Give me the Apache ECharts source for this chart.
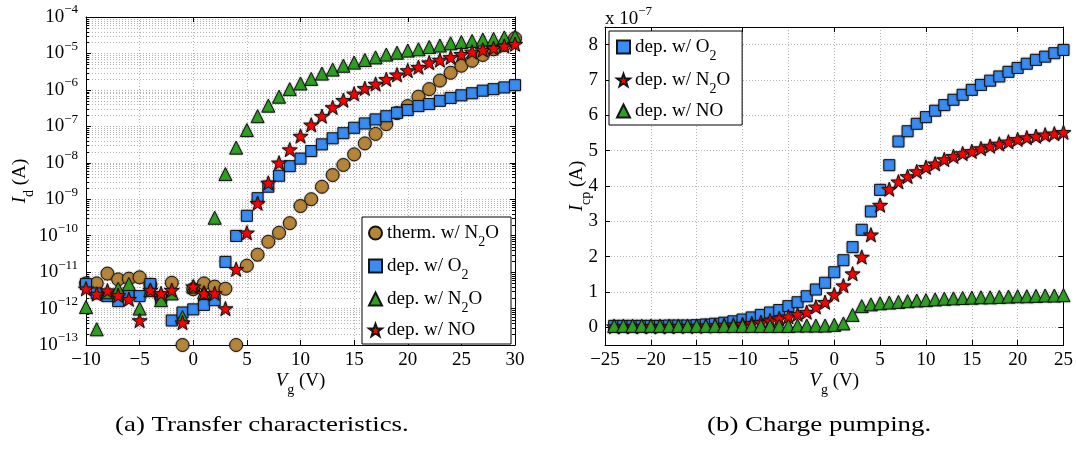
<!DOCTYPE html>
<html>
<head>
<meta charset="utf-8">
<script src="https://cdn.jsdelivr.net/npm/echarts@6/dist/echarts.min.js"></script>
<style>
  html, body { margin: 0; padding: 0; background: #fff; }
  #chart { width: 1076px; height: 450px; }
</style>
</head>
<body>
<div id="chart"></div>
<script>
// (a) Transfer characteristics: gate voltage in V, drain current in A
const vgTransfer = [-10, -9, -8, -7, -6, -5, -4, -3, -2, -1, 0, 1, 2, 3, 4, 5, 6, 7, 8, 9,
  10, 11, 12, 13, 14, 15, 16, 17, 18, 19, 20, 21, 22, 23, 24, 25, 26, 27, 28, 29, 30];

const idThermN2O = [4.9e-12, 4.9e-12, 9.1e-12, 6.3e-12, 6.6e-12, 7.2e-12, 4.5e-12, 2.0e-12, 5.1e-12, 1.0e-13,
  3.4e-12, 4.9e-12, 4.0e-12, 3.5e-12, 1.0e-13, 1.5e-11, 3.0e-11, 6.8e-11, 1.2e-10, 2.2e-10,
  6.5e-10, 1.0e-9, 2.2e-9, 4.6e-9, 8.7e-9, 1.7e-8, 3.4e-8, 6.2e-8, 1.15e-7, 2.3e-7,
  3.6e-7, 6.5e-7, 1.05e-6, 1.8e-6, 2.95e-6, 4.6e-6, 6.3e-6, 9.1e-6, 1.3e-5, 1.7e-5, 2.6e-5];

const idDepO2 = [4.7e-12, 2.6e-12, 2.2e-12, 1.6e-12, 2.6e-12, 2.2e-12, 4.7e-12, 1.8e-12, 4.7e-13, 7.8e-13,
  9.5e-13, 1.26e-12, 1.7e-12, 1.9e-11, 9.8e-11, 3.5e-10, 1.07e-9, 2.2e-9, 4.4e-9, 8.1e-9,
  1.3e-8, 2.1e-8, 3.2e-8, 4.7e-8, 6.5e-8, 9.1e-8, 1.2e-7, 1.55e-7, 1.9e-7, 2.35e-7,
  2.8e-7, 3.6e-7, 4.1e-7, 5.0e-7, 6.0e-7, 7.1e-7, 8.1e-7, 9.5e-7, 1.05e-6, 1.17e-6, 1.35e-6];

const idDepN2O = [1.1e-12, 2.7e-13, 2.8e-12, 3.5e-12, 4.7e-12, 1.0e-12, 3.2e-12, 1.7e-12, 2.6e-12, 5.8e-13,
  4.0e-12, 2.8e-12, 3.1e-10, 4.9e-9, 2.6e-8, 7.9e-8, 1.9e-7, 3.7e-7, 6.5e-7, 1.05e-6,
  1.5e-6, 2.0e-6, 2.8e-6, 3.6e-6, 4.6e-6, 5.6e-6, 6.6e-6, 7.8e-6, 9.3e-6, 1.05e-5,
  1.2e-5, 1.3e-5, 1.5e-5, 1.65e-5, 1.9e-5, 2.05e-5, 2.2e-5, 2.4e-5, 2.5e-5, 2.75e-5, 2.9e-5];

const idDepNO = [3.5e-12, 2.5e-12, 3.1e-12, 2.3e-12, 1.8e-12, 4.7e-13, 3.2e-12, 2.6e-12, 3.2e-12, 4.1e-13,
  4.0e-12, 2.6e-12, 2.6e-12, 1.0e-12, 1.2e-11, 1.2e-10, 7.8e-10, 2.8e-9, 1.0e-8, 2.3e-8,
  5.4e-8, 1.1e-7, 1.9e-7, 3.3e-7, 5.2e-7, 7.8e-7, 1.1e-6, 1.45e-6, 1.95e-6, 2.6e-6,
  3.4e-6, 4.2e-6, 5.6e-6, 6.6e-6, 7.8e-6, 9.5e-6, 1.1e-5, 1.25e-5, 1.4e-5, 1.6e-5, 1.8e-5];

// (b) Charge pumping: gate voltage in V, current in units of 1e-7 A
const vgPumping = [-24, -23, -22, -21, -20, -19, -18, -17, -16, -15, -14, -13, -12, -11, -10, -9, -8, -7, -6, -5,
  -4, -3, -2, -1, 0, 1, 2, 3, 4, 5, 6, 7, 8, 9, 10, 11, 12, 13, 14, 15,
  16, 17, 18, 19, 20, 21, 22, 23, 24, 25];

const icpDepO2 = [0.04, 0.04, 0.04, 0.04, 0.04, 0.04, 0.05, 0.05, 0.05, 0.06,
  0.08, 0.10, 0.13, 0.17, 0.22, 0.28, 0.35, 0.42, 0.49, 0.60,
  0.71, 0.88, 1.07, 1.26, 1.56, 1.90, 2.27, 2.76, 3.28, 3.89,
  4.59, 5.26, 5.55, 5.76, 5.95, 6.13, 6.29, 6.44, 6.58, 6.72,
  6.86, 6.98, 7.10, 7.23, 7.34, 7.46, 7.57, 7.66, 7.76, 7.85];

const icpDepN2O = [0.02, 0.02, 0.02, 0.02, 0.02, 0.02, 0.02, 0.03, 0.03, 0.03,
  0.04, 0.05, 0.06, 0.07, 0.09, 0.11, 0.14, 0.19, 0.25, 0.30,
  0.37, 0.43, 0.58, 0.71, 0.93, 1.18, 1.52, 1.99, 2.62, 3.46,
  3.91, 4.12, 4.27, 4.41, 4.53, 4.63, 4.75, 4.84, 4.92, 4.98,
  5.06, 5.13, 5.19, 5.25, 5.32, 5.37, 5.41, 5.45, 5.48, 5.52];

const icpDepNO = [0.04, 0.04, 0.04, 0.04, 0.04, 0.04, 0.04, 0.04, 0.04, 0.04,
  0.04, 0.04, 0.04, 0.04, 0.04, 0.04, 0.04, 0.04, 0.04, 0.04,
  0.05, 0.05, 0.05, 0.05, 0.07, 0.11, 0.35, 0.60, 0.65, 0.68,
  0.70, 0.72, 0.74, 0.76, 0.77, 0.79, 0.81, 0.82, 0.83, 0.84,
  0.85, 0.85, 0.86, 0.87, 0.88, 0.88, 0.89, 0.90, 0.90, 0.91];

// axis ranges
const transferX = [-10, 30];
const transferY = [1e-13, 1e-4];
const pumpingX = [-25, 25];
const pumpingY = [-0.5, 8.5];

// legend labels (rich text, subscripts in {s|...})
const legendLabels = {
  'a_therm_N2O': 'therm. w/ N{s|2}O',
  'a_dep_O2': 'dep. w/ O{s|2}',
  'a_dep_N2O': 'dep. w/ N{s|2}O',
  'a_dep_NO': 'dep. w/ NO',
  'b_dep_O2': 'dep. w/ O{s|2}',
  'b_dep_N2O': 'dep. w/ N{s|2}O',
  'b_dep_NO': 'dep. w/ NO'
};

const FONT = '"Liberation Serif", "Times New Roman", serif';
const C_BROWN = '#B5853A';
const C_BLUE = '#388CF2';
const C_GREEN = '#2FA024';
const C_RED = '#FF0000';
const EDGE = '#141414';
const GRID_LINE = { color: '#b4b4b4', width: 1, type: [1, 2] };
const STAR = 'path://M0,-10L2.351,-3.236L9.511,-3.09L3.804,1.236L5.878,8.09L0,4L-5.878,8.09L-3.804,1.236L-9.511,-3.09L-2.351,-3.236Z';

// minor decade positions (2..9 x 10^n) on the log axis
const minorLog = [];
for (let e = Math.round(Math.log10(transferY[0])); e < Math.round(Math.log10(transferY[1])); e++) {
  for (let k = 2; k <= 9; k++) minorLog.push(k * Math.pow(10, e));
}

function minusSign(v) {
  return v < 0 ? '\u2212' + Math.abs(v) : String(v);
}

const subRich = { fontSize: 14, fontFamily: FONT, padding: [18, 0, 0, 0], lineHeight: 14, color: '#000' };
const italicRich = { fontSize: 19, fontFamily: FONT, fontStyle: 'italic', color: '#000' };

function boxAxes(gridIndex, type, range, pos) {
  return {
    gridIndex: gridIndex, type: type, min: range[0], max: range[1], position: pos,
    axisLine: { show: true, onZero: false, lineStyle: { color: '#000', width: 1 } },
    axisTick: { show: true, inside: true, length: 5, lineStyle: { color: '#000' } },
    axisLabel: { show: false },
    splitLine: { show: false }
  };
}

const xAxisBase = {
  axisLine: { show: true, onZero: false, lineStyle: { color: '#000', width: 1 } },
  axisTick: { show: true, inside: true, length: 5, lineStyle: { color: '#000' } },
  axisLabel: { color: '#000', fontFamily: FONT, fontSize: 19, margin: 6, formatter: minusSign },
  splitLine: { show: true, lineStyle: GRID_LINE },
  nameLocation: 'middle',
  nameGap: 24,
  nameMoveOverlap: false,
  nameTextStyle: { color: '#000', fontFamily: FONT, fontSize: 19, lineHeight: 24, rich: { i: italicRich, s: subRich } }
};

function scatter(name, xi, yi, xs, ys, symbol, size, color, z) {
  return {
    type: 'scatter', name: name, xAxisIndex: xi, yAxisIndex: yi,
    data: xs.map((x, i) => [x, ys[i]]),
    symbol: symbol, symbolSize: size, symbolKeepAspect: true,
    itemStyle: {
      color: color, borderColor: EDGE, borderWidth: 1, opacity: 1,
      shadowBlur: 2, shadowColor: 'rgba(0,0,0,0.35)'
    },
    emphasis: { disabled: true }, silent: true, z: z
  };
}

const legendCommon = {
  orient: 'vertical', selectedMode: false,
  backgroundColor: '#fff', borderColor: '#000', borderWidth: 1, borderRadius: 0,
  itemWidth: 13, itemHeight: 13, itemGap: 1, itemTextGap: 6,
  formatter: n => legendLabels[n],
  textStyle: { color: '#000', fontFamily: FONT, fontSize: 19, lineHeight: 28, rich: { s: subRich } },
  z: 10
};

const option = {
  animation: false,
  backgroundColor: '#fff',
  grid: [
    { left: 86, top: 17, width: 429, height: 328, containLabel: false },
    { left: 605, top: 27, width: 461, height: 318, containLabel: false }
  ],
  xAxis: [
    Object.assign({}, xAxisBase, {
      gridIndex: 0, type: 'value', min: transferX[0], max: transferX[1], interval: 5, position: 'bottom',
      name: '{i|V}{s|g} (V)'
    }),
    boxAxes(0, 'value', transferX, 'top'),
    Object.assign({}, xAxisBase, {
      gridIndex: 1, type: 'value', min: pumpingX[0], max: pumpingX[1], interval: 5, position: 'bottom',
      name: '{i|V}{s|g} (V)'
    }),
    boxAxes(1, 'value', pumpingX, 'top')
  ],
  yAxis: [
    {
      gridIndex: 0, type: 'log', logBase: 10, min: transferY[0], max: transferY[1], position: 'left',
      axisLine: { show: true, onZero: false, lineStyle: { color: '#000', width: 1 } },
      axisTick: { show: true, inside: true, length: 5, lineStyle: { color: '#000' } },
      axisLabel: {
        color: '#000', fontFamily: FONT, fontSize: 19, margin: 8,
        formatter: v => '{b|10}{p|' + minusSign(Math.round(Math.log10(v))) + '}',
        rich: {
          b: { fontSize: 19, fontFamily: FONT, color: '#000' },
          p: { fontSize: 13, fontFamily: FONT, color: '#000', padding: [0, 0, 14, 0] }
        }
      },
      splitLine: { show: true, lineStyle: GRID_LINE },
      name: '{i|I}{s|d} (A)', nameLocation: 'middle', nameGap: 54, nameRotate: 90, nameMoveOverlap: false,
      nameTextStyle: { color: '#000', fontFamily: FONT, fontSize: 19, lineHeight: 24, rich: { i: italicRich, s: subRich } }
    },
    boxAxes(0, 'log', transferY, 'right'),
    {
      gridIndex: 1, type: 'value', min: pumpingY[0], max: pumpingY[1], splitNumber: 9, position: 'left',
      axisLine: { show: true, onZero: false, lineStyle: { color: '#000', width: 1 } },
      axisTick: { show: true, inside: true, length: 5, lineStyle: { color: '#000' } },
      axisLabel: { color: '#000', fontFamily: FONT, fontSize: 19, margin: 7, showMinLabel: false, showMaxLabel: false },
      splitLine: { show: true, lineStyle: GRID_LINE },
      name: '{i|I}{s|cp} (A)', nameLocation: 'middle', nameGap: 16, nameRotate: 90, nameMoveOverlap: false,
      nameTextStyle: { color: '#000', fontFamily: FONT, fontSize: 19, lineHeight: 24, rich: { i: italicRich, s: subRich } }
    },
    boxAxes(1, 'value', pumpingY, 'right')
  ],
  legend: [
    Object.assign({}, legendCommon, {
      left: 362, top: 217, padding: [0, 12, 0, 6],
      data: ['a_therm_N2O', 'a_dep_O2', 'a_dep_N2O', 'a_dep_NO']
    }),
    Object.assign({}, legendCommon, {
      left: 609, top: 31, padding: [0, 12, 0, 7],
      data: ['b_dep_O2', 'b_dep_N2O', 'b_dep_NO']
    })
  ],
  graphic: [
    {
      type: 'text', x: 605, y: 19, silent: true,
      style: {
        text: 'x 10{p|\u22127}', fill: '#000', fontFamily: FONT, fontSize: 19, verticalAlign: 'middle',
        rich: { p: { fontSize: 13, fontFamily: FONT, fill: '#000', padding: [0, 0, 14, 0] } }
      }
    },
    {
      type: 'text', x: 115, y: 425, scaleX: 1.28, silent: true,
      style: { text: '(a) Transfer characteristics.', fill: '#000', fontFamily: FONT, fontSize: 21, verticalAlign: 'middle' }
    },
    {
      type: 'text', x: 707, y: 425, scaleX: 1.28, silent: true,
      style: { text: '(b) Charge pumping.', fill: '#000', fontFamily: FONT, fontSize: 21, verticalAlign: 'middle' }
    }
  ],
  series: [
    {
      // minor decade grid and ticks on the log axis
      type: 'custom', xAxisIndex: 0, yAxisIndex: 0, silent: true, z: 1,
      data: minorLog.map(v => [0, v]),
      renderItem: function (params, api) {
        const cs = params.coordSys;
        const y = Math.round(api.coord([0, api.value(1)])[1]) + 0.5;
        const x0 = cs.x, x1 = cs.x + cs.width;
        return {
          type: 'group',
          children: [
            { type: 'line', shape: { x1: x0, y1: y, x2: x1, y2: y }, style: { stroke: '#b4b4b4', lineWidth: 1, lineDash: [1, 2] } },
            { type: 'line', shape: { x1: x0, y1: y, x2: x0 + 3, y2: y }, style: { stroke: '#000', lineWidth: 1 } },
            { type: 'line', shape: { x1: x1 - 3, y1: y, x2: x1, y2: y }, style: { stroke: '#000', lineWidth: 1 } }
          ]
        };
      }
    },
    scatter('a_therm_N2O', 0, 0, vgTransfer, idThermN2O, 'circle', 13, C_BROWN, 3),
    scatter('a_dep_O2', 0, 0, vgTransfer, idDepO2, 'rect', 11, C_BLUE, 3),
    scatter('a_dep_N2O', 0, 0, vgTransfer, idDepN2O, 'triangle', 13, C_GREEN, 3),
    scatter('a_dep_NO', 0, 0, vgTransfer, idDepNO, STAR, 15, C_RED, 3),
    scatter('b_dep_O2', 2, 2, vgPumping, icpDepO2, 'rect', 11, C_BLUE, 3),
    scatter('b_dep_N2O', 2, 2, vgPumping, icpDepN2O, STAR, 15, C_RED, 3),
    scatter('b_dep_NO', 2, 2, vgPumping, icpDepNO, 'triangle', 13, C_GREEN, 3)
  ]
};

const chart = echarts.init(document.getElementById('chart'), null, { renderer: 'canvas' });
chart.setOption(option);
</script>
</body>
</html>
